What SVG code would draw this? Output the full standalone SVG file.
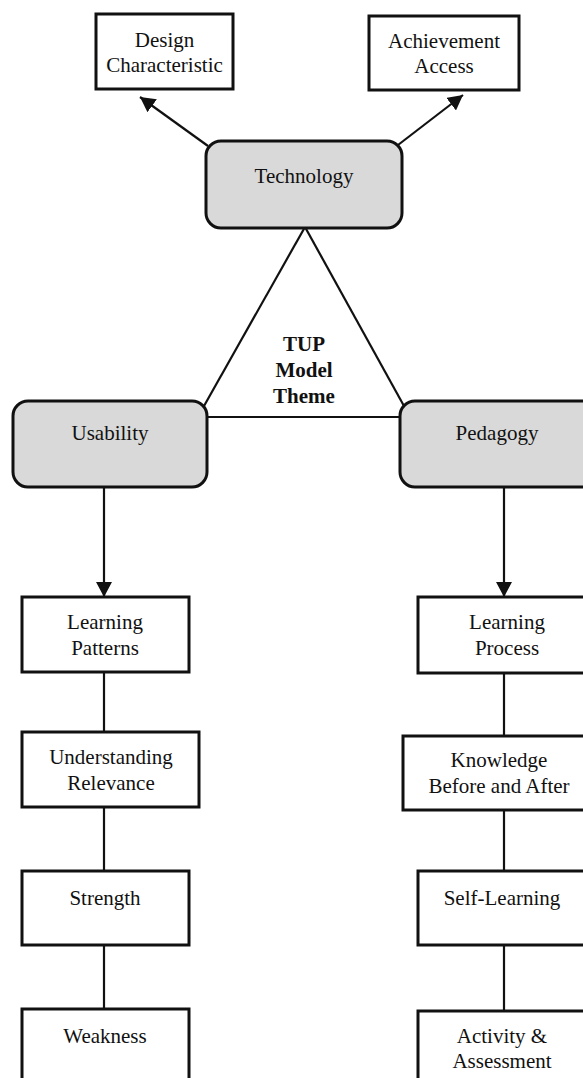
<svg xmlns="http://www.w3.org/2000/svg" width="583" height="1078" viewBox="0 0 583 1078">
<style>
  text { font-family: "Liberation Serif", "Times New Roman", serif; font-size: 21px; fill: #111; text-anchor: middle; }
  .bold { font-weight: bold; }
  .box { fill: #fff; stroke: #111; stroke-width: 3; }
  .core { fill: #d9d9d9; stroke: #111; stroke-width: 3; }
  .edge { stroke: #111; stroke-width: 2.2; fill: none; }
</style>
<defs>
  <marker id="arrow" markerUnits="userSpaceOnUse" markerWidth="16" markerHeight="16" refX="15" refY="8" orient="auto">
    <path d="M0,0 L15,8 L0,16 z" fill="#111"/>
  </marker>
</defs>
<rect width="583" height="1078" fill="#fff"/>
<g id="connectors">
  <line class="edge" x1="208" y1="146" x2="140" y2="97" marker-end="url(#arrow)"/>
  <line class="edge" x1="398" y1="145" x2="463" y2="95" marker-end="url(#arrow)"/>
  <line class="edge" x1="305" y1="227" x2="204" y2="406"/>
  <line class="edge" x1="305" y1="227" x2="404" y2="406"/>
  <line class="edge" x1="206" y1="417" x2="401" y2="417"/>
  <line class="edge" x1="104" y1="487" x2="104" y2="597" marker-end="url(#arrow)"/>
  <line class="edge" x1="504" y1="487" x2="504" y2="597" marker-end="url(#arrow)"/>
  <line class="edge" x1="104" y1="672" x2="104" y2="732"/>
  <line class="edge" x1="104" y1="807" x2="104" y2="871"/>
  <line class="edge" x1="104" y1="945" x2="104" y2="1009"/>
  <line class="edge" x1="504" y1="673" x2="504" y2="736"/>
  <line class="edge" x1="504" y1="810" x2="504" y2="871"/>
  <line class="edge" x1="504" y1="945" x2="504" y2="1011"/>
</g>
<g id="design">
  <rect class="box" x="96" y="14" width="137" height="75"/>
  <text x="164.5" y="47">Design</text>
  <text x="164.5" y="72">Characteristic</text>
</g>
<g id="achievement">
  <rect class="box" x="369" y="16" width="150" height="74"/>
  <text x="444" y="48">Achievement</text>
  <text x="444" y="73">Access</text>
</g>
<g id="technology">
  <rect class="core" x="206" y="141" width="196" height="87" rx="15"/>
  <text x="304" y="183">Technology</text>
</g>
<g id="theme">
  <text class="bold" x="304" y="351">TUP</text>
  <text class="bold" x="304" y="377">Model</text>
  <text class="bold" x="304" y="403">Theme</text>
</g>
<g id="usability">
  <rect class="core" x="13" y="401" width="194" height="86" rx="15"/>
  <text x="110" y="440">Usability</text>
</g>
<g id="pedagogy">
  <rect class="core" x="400" y="401" width="200" height="86" rx="15"/>
  <text x="497" y="440">Pedagogy</text>
</g>
<g id="learning-patterns">
  <rect class="box" x="22" y="597" width="167" height="75"/>
  <text x="105" y="629">Learning</text>
  <text x="105" y="655">Patterns</text>
</g>
<g id="understanding">
  <rect class="box" x="22" y="732" width="177" height="75"/>
  <text x="111" y="764">Understanding</text>
  <text x="111" y="790">Relevance</text>
</g>
<g id="strength">
  <rect class="box" x="22" y="871" width="167" height="74"/>
  <text x="105" y="905">Strength</text>
</g>
<g id="weakness">
  <rect class="box" x="22" y="1009" width="167" height="80"/>
  <text x="105" y="1043">Weakness</text>
</g>
<g id="learning-process">
  <rect class="box" x="418" y="597" width="180" height="76"/>
  <text x="507" y="629">Learning</text>
  <text x="507" y="655">Process</text>
</g>
<g id="knowledge">
  <rect class="box" x="403" y="736" width="195" height="74"/>
  <text x="499" y="767">Knowledge</text>
  <text x="499" y="793">Before and After</text>
</g>
<g id="self-learning">
  <rect class="box" x="418" y="871" width="180" height="74"/>
  <text x="502" y="905">Self-Learning</text>
</g>
<g id="activity">
  <rect class="box" x="418" y="1011" width="180" height="80"/>
  <text x="502" y="1043">Activity &amp;</text>
  <text x="502" y="1068">Assessment</text>
</g>
</svg>
